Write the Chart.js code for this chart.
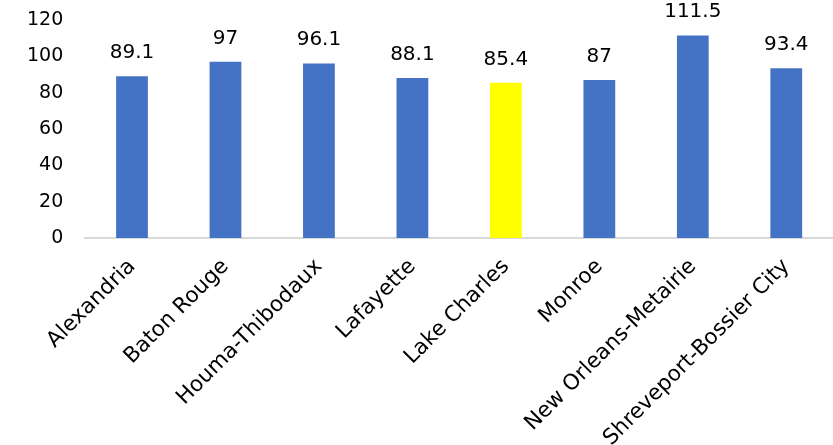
<!DOCTYPE html>
<html>
<head>
<meta charset="utf-8">
<script src="https://cdn.jsdelivr.net/npm/chart.js@4"></script>
<style>
  html, body { margin: 0; padding: 0; background: #fff; }
  #wrap { width: 833px; height: 445px; }
</style>
</head>
<body>
<div id="wrap"><canvas id="chart"></canvas></div>
<script>
// datos del grafico
const categories = ['Alexandria', 'Baton Rouge', 'Houma-Thibodaux', 'Lafayette', 'Lake Charles', 'Monroe', 'New Orleans-Metairie', 'Shreveport-Bossier City'];
const values = [89.1, 97, 96.1, 88.1, 85.4, 87, 111.5, 93.4];
const labelsText = ['89.1', '97', '96.1', '88.1', '85.4', '87', '111.5', '93.4'];
const highlight = 'Lake Charles';

const barColors = categories.map(c => c === highlight ? '#FFFF00' : '#4472C4');

// etiquetas encima de cada barra
const valueLabels = {
    id: 'valueLabels',
    afterDatasetsDraw(chart) {
        const ctx = chart.ctx;
        const meta = chart.getDatasetMeta(0);
        ctx.save();
        ctx.font = '20px "DejaVu Sans"';
        ctx.fillStyle = '#000';
        ctx.textAlign = 'center';
        ctx.textBaseline = 'alphabetic';
        meta.data.forEach((bar, i) => {
            ctx.fillText(labelsText[i], bar.x, bar.y - 18);
        });
        ctx.restore();
    }
};

const ctx = document.getElementById('chart').getContext('2d');
new Chart(ctx, {
    type: 'bar',
    data: {
        labels: categories,
        datasets: [{
            data: values,
            backgroundColor: barColors,
            barPercentage: 0.34,
            categoryPercentage: 1
        }]
    },
    options: {
        responsive: true,
        maintainAspectRatio: false,
        animation: false,
        layout: { padding: { top: 20, right: 0, left: 5, bottom: 0 } },
        plugins: {
            legend: { display: false },
            tooltip: { enabled: false }
        },
        scales: {
            x: {
                grid: { display: false, drawTicks: false },
                border: { color: '#d9d9d9', width: 2 },
                afterFit(scale) { scale.height = 207; scale.paddingTop = 0; },
                ticks: {
                    color: '#000',
                    font: { family: 'DejaVu Sans', size: 21.5 },
                    minRotation: 45,
                    maxRotation: 45,
                    autoSkip: false,
                    padding: 16
                }
            },
            y: {
                min: 0,
                max: 120,
                grid: { display: false, drawTicks: false },
                border: { display: false },
                afterFit(scale) { scale.paddingTop = 0; },
                ticks: {
                    stepSize: 20,
                    color: '#000',
                    font: { family: 'DejaVu Sans', size: 19 },
                    padding: 22
                }
            }
        }
    },
    plugins: [valueLabels]
});
</script>
</body>
</html>
